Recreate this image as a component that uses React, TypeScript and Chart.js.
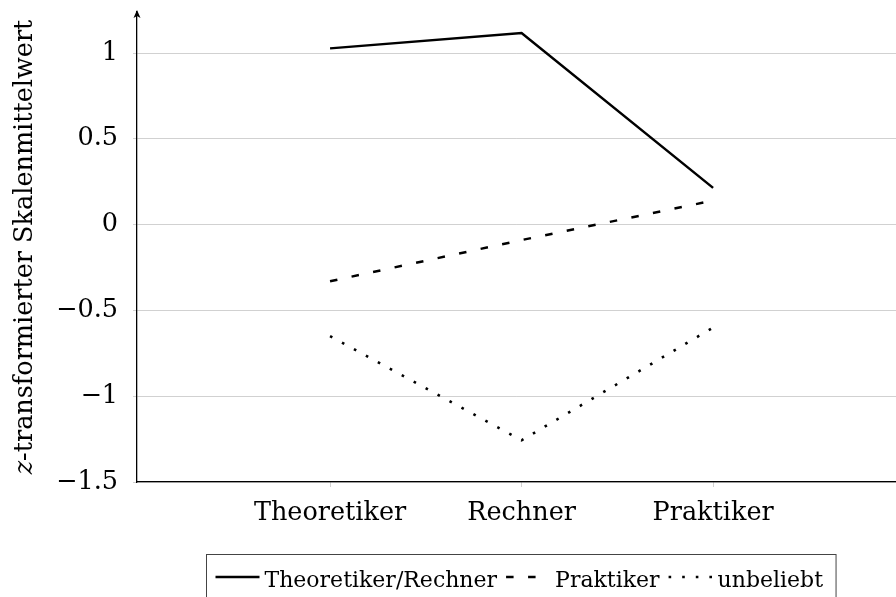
import React, { useEffect, useRef } from 'react';
import { Chart, registerables } from 'chart.js';

Chart.register(...registerables);

// ---- data ----
const categories = ['Theoretiker', 'Rechner', 'Praktiker'];
const categoryPositions = [0, 1, 2];
const theoretikerRechner = [1.027, 1.117, 0.214];
const praktiker = [-0.33, -0.09, 0.14];
const unbeliebt = [-0.65, -1.257, -0.6];
const seriesNames = ['Theoretiker/Rechner', 'Praktiker', 'unbeliebt'];
const yTicks = [-1.5, -1, -0.5, 0, 0.5, 1];
const yTickLabels = ['−1.5', '−1', '−0.5', '0', '0.5', '1'];
const yTitleItalic = 'z';
const yTitleRest = '-transformierter Skalenmittelwert';

const FONT = '"DejaVu Serif", "Liberation Serif", serif';
const GRID = 'rgba(0,0,0,0.18)';
const TICK_SIZE = 25.5;

const dashPatterns: number[][] = [[], [7.5, 14.5], [2.6, 11]];

const decorPlugin = {
  id: 'decor',
  afterDraw(chart: any) {
    const ctx: CanvasRenderingContext2D = chart.ctx;
    const a = chart.chartArea;
    ctx.save();
    // arrow on y axis
    ctx.fillStyle = '#000';
    ctx.beginPath();
    const ax = a.left;
    const ay = a.top - 2;
    ctx.moveTo(ax, ay);
    ctx.lineTo(ax - 3.5, ay + 8);
    ctx.lineTo(ax, ay + 6);
    ctx.lineTo(ax + 3.5, ay + 8);
    ctx.closePath();
    ctx.fill();

    // y title
    ctx.save();
    ctx.translate(32, (a.top + a.bottom) / 2);
    ctx.rotate(-Math.PI / 2);
    ctx.textBaseline = 'alphabetic';
    ctx.textAlign = 'left';
    const fi = 'italic ' + TICK_SIZE + 'px ' + FONT;
    const fn = TICK_SIZE + 'px ' + FONT;
    ctx.font = fi;
    const w1 = ctx.measureText(yTitleItalic).width;
    ctx.font = fn;
    const w2 = ctx.measureText(yTitleRest).width;
    const x = -(w1 + w2) / 2;
    ctx.fillStyle = '#000';
    ctx.font = fi;
    ctx.fillText(yTitleItalic, x, 0);
    ctx.font = fn;
    ctx.fillText(yTitleRest, x + w1, 0);
    ctx.restore();

    // legend
    const lf = '22px ' + FONT;
    ctx.font = lf;
    const padL = 9, padR = 13, sampleW = 44, sampleGap = 5, itemGap = 9;
    const widths = seriesNames.map((n) => ctx.measureText(n).width);
    let total = padL + padR;
    widths.forEach((w, i) => {
      total += sampleW + sampleGap + w + (i < widths.length - 1 ? itemGap : 0);
    });
    const cx = 521;
    const boxL = Math.round(cx - total / 2) + 0.5;
    const boxT = 554.5;
    ctx.strokeStyle = '#444';
    ctx.lineWidth = 1;
    ctx.setLineDash([]);
    ctx.strokeRect(boxL, boxT, total, 80);
    let px = boxL + padL;
    const lineY = 577;
    const baseY = 587;
    seriesNames.forEach((n, i) => {
      ctx.save();
      ctx.strokeStyle = '#000';
      ctx.lineWidth = 2.5;
      ctx.setLineDash(dashPatterns[i]);
      ctx.lineCap = 'butt';
      ctx.beginPath();
      ctx.moveTo(px, lineY);
      ctx.lineTo(px + sampleW, lineY);
      ctx.stroke();
      ctx.restore();
      px += sampleW + sampleGap;
      ctx.fillStyle = '#000';
      ctx.font = lf;
      ctx.textBaseline = 'alphabetic';
      ctx.textAlign = 'left';
      ctx.fillText(n, px, baseY);
      px += widths[i] + itemGap;
    });
    ctx.restore();
  },
};

export default function App() {
  const ref = useRef<HTMLCanvasElement>(null);
  useEffect(() => {
    document.body.style.margin = '0';
    const canvas = ref.current!;
    const mk = (vals: number[]) => categoryPositions.map((p, i) => ({ x: p, y: vals[i] }));
    const seriesVals = [theoretikerRechner, praktiker, unbeliebt];
    const chart = new Chart(canvas, {
      type: 'line',
      data: {
        datasets: seriesVals.map((vals, i) => ({
          label: seriesNames[i],
          data: mk(vals),
          borderColor: '#000',
          backgroundColor: '#000',
          borderWidth: i === 2 ? 2.6 : 2.5,
          borderDash: dashPatterns[i],
          borderCapStyle: 'butt',
          pointRadius: 0,
          tension: 0,
          fill: false,
        })) as any,
      },
      options: {
        responsive: false,
        animation: false,
        devicePixelRatio: 1,
        layout: { padding: { top: 12, left: 0, right: 0, bottom: 0 } },
        plugins: { legend: { display: false }, tooltip: { enabled: false } },
        scales: {
          x: {
            type: 'linear',
            min: -1.008,
            max: 2.955,
            afterBuildTicks: (scale: any) => {
              scale.ticks = categoryPositions.map((v) => ({ value: v }));
            },
            afterFit: (scale: any) => {
              scale.height = 115;
              scale.paddingLeft = 0;
              scale.paddingRight = 0;
            },
            ticks: {
              font: { family: FONT, size: TICK_SIZE },
              color: '#000',
              padding: 11,
              maxRotation: 0,
              autoSkip: false,
              callback: (v: any) => {
                const idx = categoryPositions.indexOf(Number(v));
                return idx >= 0 ? categories[idx] : '';
              },
            },
            grid: { display: true, drawOnChartArea: false, drawTicks: true, tickLength: 5, color: GRID },
            border: { display: true, color: '#000', width: 1.3 },
          },
          y: {
            type: 'linear',
            min: -1.5,
            max: 1.239,
            afterBuildTicks: (scale: any) => {
              scale.ticks = yTicks.map((v) => ({ value: v }));
            },
            afterFit: (scale: any) => {
              scale.width = 137;
              scale.paddingTop = 0;
              scale.paddingBottom = 0;
            },
            ticks: {
              font: { family: FONT, size: TICK_SIZE },
              color: '#000',
              padding: 15,
              callback: (v: any) => {
                const idx = yTicks.indexOf(Number(v));
                return idx >= 0 ? yTickLabels[idx] : '';
              },
            },
            grid: { color: GRID, lineWidth: 1, tickLength: 4 },
            border: { display: true, color: '#000', width: 1.3 },
          },
        },
      },
      plugins: [decorPlugin],
    });
    return () => chart.destroy();
  }, []);
  return (
    <div style={{ position: 'absolute', left: 0, top: 0, width: 896, height: 597 }}>
      <canvas ref={ref} width={896} height={597} style={{ display: 'block', width: 896, height: 597 }} />
    </div>
  );
}
